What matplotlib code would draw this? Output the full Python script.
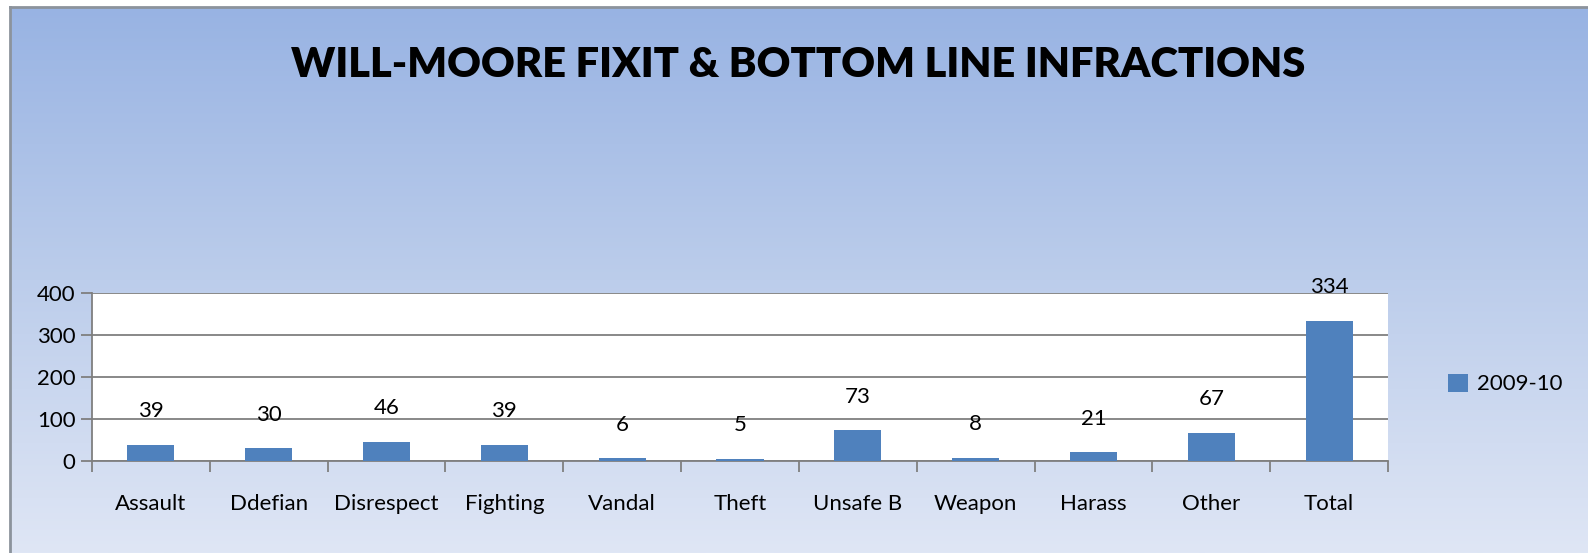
import matplotlib.pyplot as plt
import numpy as np
from matplotlib.colors import LinearSegmentedColormap

categories = ["Assault", "Ddefian", "Disrespect", "Fighting", "Vandal", "Theft",
              "Unsafe B", "Weapon", "Harass", "Other", "Total"]
values_2009_10 = [39, 30, 46, 39, 6, 5, 73, 8, 21, 67, 334]
yticks = [0, 100, 200, 300, 400]

plt.rcParams['font.family'] = ['Lato', 'DejaVu Sans']

fig = plt.figure(figsize=(15.88, 5.53), dpi=100)
fig.patch.set_facecolor("white")

# gradient background inside the chart frame (darker at the top)
bg = fig.add_axes([10 / 1588, 0, 1 - 10 / 1588, 1 - 7 / 553])
grad_cmap = LinearSegmentedColormap.from_list("bg", ["#98b3e3", "#bccdeb", "#dfe6f5"])
bg.imshow(np.linspace(0, 1, 256).reshape(-1, 1), aspect="auto", cmap=grad_cmap,
          extent=[0, 1, 0, 1], origin="upper")
bg.set_xticks([])
bg.set_yticks([])
for side in ["right", "bottom"]:
    bg.spines[side].set_visible(False)
for side in ["left", "top"]:
    bg.spines[side].set_color("#8c939c")
    bg.spines[side].set_linewidth(2)

fig.text(798 / 1588, 1 - 65 / 553, "WILL-MOORE FIXIT & BOTTOM LINE INFRACTIONS",
         ha="center", va="center", fontsize=30, fontweight="heavy", color="black")

ax = fig.add_axes([92 / 1588, 1 - 461 / 553, (1388 - 92) / 1588, (461 - 293) / 553])
ax.set_facecolor("white")
x = np.arange(len(categories))
bars = ax.bar(x, values_2009_10, width=0.4, color="#4f81bd", label="2009-10", zorder=3)

for xi, v in zip(x, values_2009_10):
    ax.annotate(str(v), (xi, v), xytext=(0, 17), textcoords="offset points",
                ha="center", va="bottom", fontsize=16, color="black", zorder=4)

ax.set_xlim(-0.5, len(categories) - 0.5)
ax.set_ylim(0, 400)
ax.set_yticks(yticks)
ax.yaxis.grid(True, color="#7f7f7f", linewidth=1.3, zorder=1)
ax.set_xticks(np.arange(len(categories) + 1) - 0.5, minor=False)
ax.set_xticklabels([])
ax.set_xticks(x, minor=True)
ax.set_xticklabels(categories, minor=True)
ax.tick_params(axis="x", which="major", length=8, width=1.3, color="#7f7f7f", direction="out")
ax.tick_params(axis="x", which="minor", length=0, pad=24, labelsize=16)
ax.tick_params(axis="y", length=8, width=1.3, color="#7f7f7f", labelsize=16, pad=4)
for side in ["top", "right"]:
    ax.spines[side].set_visible(False)
for side in ["left", "bottom"]:
    ax.spines[side].set_color("#7f7f7f")
    ax.spines[side].set_linewidth(1.3)

leg = fig.legend(handles=[bars], labels=["2009-10"], loc="center left",
                 bbox_to_anchor=(1428 / 1588, 1 - 384 / 553), frameon=False,
                 fontsize=16, handlelength=0.9, handleheight=0.9, handletextpad=0.4)

fig.savefig("out.png", dpi=100)
